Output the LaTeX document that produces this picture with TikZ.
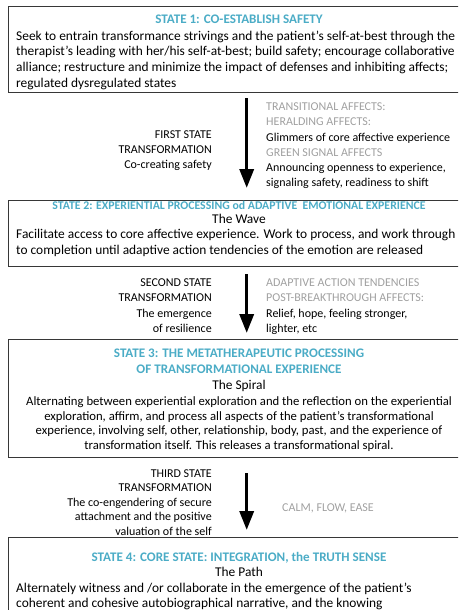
\documentclass[tikz,border=0pt]{standalone}
\usepackage{fontspec}
\setmainfont{Carlito}
\usetikzlibrary{arrows.meta}
\definecolor{ttl}{RGB}{75,172,198}
\definecolor{lbl}{RGB}{160,160,160}
\definecolor{bord}{RGB}{55,55,55}
\tikzset{
 box/.style={draw=bord, line width=1.4pt, minimum width=462pt, anchor=north west, inner sep=0},
 body/.style={font=\fontsize{13.4}{16}\selectfont, inner sep=0, text=black},
 body3/.style={font=\fontsize{12.7}{15}\selectfont, inner sep=0, text=black},
 side/.style={font=\fontsize{12}{15}\selectfont, inner sep=0, text=black},
 ttlst/.style={font=\fontsize{13.1}{15}\selectfont\bfseries, inner sep=0, text=ttl},
 ttlsm/.style={ttlst, font=\fontsize{11.8}{14}\selectfont\bfseries},
 grey/.style={side, text=lbl},
 L/.style={anchor=base west}, R/.style={anchor=base east}, C/.style={anchor=base},
 arr/.style={line width=3.5pt, -{Triangle[width=14pt,length=19pt]}},
}
\begin{document}
\begin{tikzpicture}[x=1pt,y=-1pt]
\useasboundingbox (0,0) rectangle (458,610);
\clip (0,0) rectangle (458,610);
% boxes
\node[box, minimum height=86pt] (b1) at (8,6) {};
\node[box, minimum height=66pt] (b2) at (8,200) {};
\node[box, minimum height=118pt] (b3) at (8,339) {};
\node[box, minimum height=120pt] (b4) at (8,537) {};
% box 1
\node[ttlst,C] (t1) at (239,24) {STATE 1: CO-ESTABLISH SAFETY};
\node[body,L] (t1a) at (16,40.5) {Seek to entrain transformance strivings and the patient's self-at-best through the};
\node[body,L] (t1b) at (16,56) {therapist's leading with her/his self-at-best; build safety; encourage collaborative};
\node[body,L] (t1c) at (16,71.5) {alliance; restructure and minimize the impact of defenses and inhibiting affects;};
\node[body,L] (t1d) at (16,87) {regulated dysregulated states};
% transition 1
\node[side,R] (l1a) at (212,138) {FIRST STATE};
\node[side,R] (l1b) at (212,153) {TRANSFORMATION};
\node[side,R] (l1c) at (212,168) {Co-creating safety};
\node[grey,L] (r1a) at (266,110) {TRANSITIONAL AFFECTS:};
\node[grey,L] (r1b) at (266,125) {HERALDING AFFECTS:};
\node[side,L] (r1c) at (266,141) {Glimmers of core affective experience};
\node[grey,L] (r1d) at (266,156) {GREEN SIGNAL AFFECTS};
\node[side,L] (r1e) at (266,171) {Announcing openness to experience,};
\node[side,L] (r1f) at (266,186) {signaling safety, readiness to shift};
% box 2
\node[ttlsm,C] (t2) at (239,209) {STATE 2: EXPERIENTIAL PROCESSING od ADAPTIVE\ \ EMOTIONAL EXPERIENCE};
\node[body,C] (t2s) at (239,223) {The Wave};
\node[body,L] (t2a) at (16,238.5) {Facilitate access to core affective experience. Work to process, and work through};
\node[body,L] (t2b) at (16,254) {to completion until adaptive action tendencies of the emotion are released};
% transition 2
\node[side,R] (l2a) at (212,286) {SECOND STATE};
\node[side,R] (l2b) at (212,301) {TRANSFORMATION};
\node[side,R] (l2c) at (212,317) {The emergence};
\node[side,R] (l2d) at (212,332) {of resilience};
\node[grey,L] (r2a) at (266,286) {ADAPTIVE ACTION TENDENCIES};
\node[grey,L] (r2b) at (266,301) {POST-BREAKTHROUGH AFFECTS:};
\node[side,L] (r2c) at (266,317) {Relief, hope, feeling stronger,};
\node[side,L] (r2d) at (266,332) {lighter, etc};
% box 3
\node[ttlst,C] (t3) at (239,357) {STATE 3: THE METATHERAPEUTIC PROCESSING};
\node[ttlst,C] (t3b) at (239,373) {OF TRANSFORMATIONAL EXPERIENCE};
\node[body,C] (t3s) at (239,389) {The Spiral};
\node[body3,C] (t3c) at (239,405.5) {Alternating between experiential exploration and the reflection on the experiential};
\node[body3,C] (t3d) at (239,420) {exploration, affirm, and process all aspects of the patient's transformational};
\node[body3,C] (t3e) at (239,434.5) {experience, involving self, other, relationship, body, past, and the experience of};
\node[body3,C] (t3f) at (239,449) {transformation itself. This releases a transformational spiral.};
% transition 3
\node[side,R] (l3a) at (212,477) {THIRD STATE};
\node[side,R] (l3b) at (212,491.5) {TRANSFORMATION};
\node[side,R] (l3c) at (212,506) {The co-engendering of secure};
\node[side,R] (l3d) at (212,520.5) {attachment and the positive};
\node[side,R] (l3e) at (212,535) {valuation of the self};
\node[grey,L] (r3a) at (282,511) {CALM, FLOW, EASE};
% box 4
\node[ttlst,C] (t4) at (239,561) {STATE 4: CORE STATE: INTEGRATION, the TRUTH SENSE};
\node[body,C] (t4s) at (239,576) {The Path};
\node[body,L] (t4a) at (16,592) {Alternately witness and /or collaborate in the emergence of the patient's};
\node[body,L] (t4b) at (16,607) {coherent and cohesive autobiographical narrative, and the knowing};
% arrows
\draw[arr] ([xshift=7pt,yshift=-5pt]b1.south) -- ([xshift=7pt,yshift=12pt]b2.north);
\draw[arr] ([xshift=7pt,yshift=-7pt]b2.south) -- ([xshift=7pt,yshift=6pt]b3.north);
\draw[arr] ([xshift=7pt,yshift=-15pt]b3.south) -- ([xshift=7pt,yshift=7pt]b4.north);
\end{tikzpicture}
\end{document}
